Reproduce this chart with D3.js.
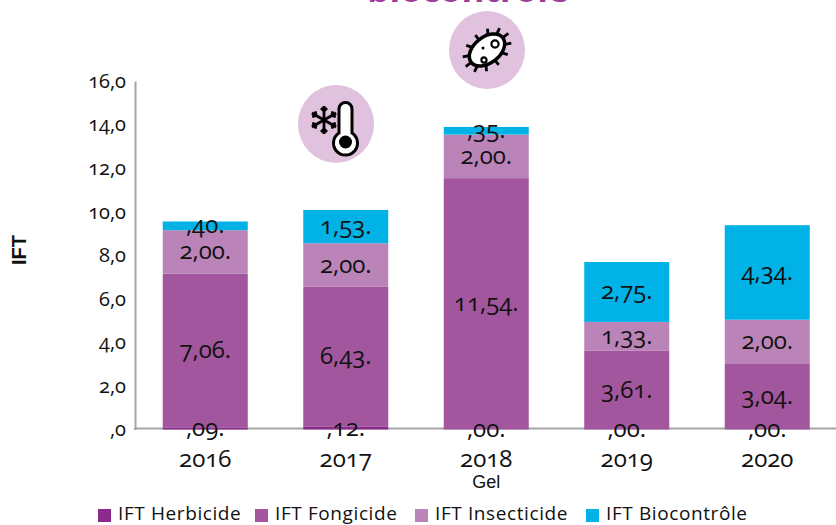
<!DOCTYPE html>
<html lang="fr">
  <head>
    <meta charset="UTF-8" />
    <title>IFT</title>
    <script src="https://d3js.org/d3.v7.min.js"></script>
    <style>
      body { margin: 0; background: #fff; }
      svg { display: block; }
      text { font-family: "Open Sans", Lato, sans-serif; fill: #111; font-feature-settings: "onum" 1; font-variant-numeric: oldstyle-nums; }
      .arial { font-family: "Liberation Sans", Arial, sans-serif; }
    </style>
  </head>
  <body>
    <svg width="836" height="525"></svg>
    <script>
      var years = ["2016", "2017", "2018", "2019", "2020"];
      var seriesNames = ["IFT Herbicide", "IFT Fongicide", "IFT Insecticide", "IFT Biocontrôle"];
      var seriesColors = ["#8b2a8b", "#a2569d", "#bb84b8", "#00b2e6"];
      var herbicide = [0.09, 0.12, 0, 0, 0];
      var fongicide = [7.06, 6.43, 11.54, 3.61, 3.04];
      var insecticide = [2, 2, 2, 1.33, 2];
      var biocontrole = [0.4, 1.53, 0.35, 2.75, 4.34];
      var yTicks = [0, 2, 4, 6, 8, 10, 12, 14, 16];

      var svg = d3.select("svg");
      var x = d3.scaleBand().domain(years).range([135, 837.5]).paddingInner(0.395).paddingOuter(0.1975);
      var y = d3.scaleLinear().domain([0, 16]).range([429.5, 81]);

      var rows = years.map(function (yr, i) {
        return { year: yr, h: herbicide[i], f: fongicide[i], n: insecticide[i], b: biocontrole[i] };
      });
      var keys = ["h", "f", "n", "b"];
      var stacked = d3.stack().keys(keys)(rows);

      function numLabel(v) {
        return d3.format(".2f")(v).replace(".", ",").replace(/^0,/, ",") + ".";
      }

      // titre coupe en haut de l'image
      svg.append("text")
        .attr("x", 468).attr("y", 2)
        .attr("text-anchor", "middle")
        .style("font-size", "35px").style("font-weight", 700)
        .style("fill", "#9c3d9c")
        .text("biocontrôle");

      // axes
      var axisColor = "#a6a6a6";
      var yAxis = svg.append("g").attr("transform", "translate(135,0)")
        .call(d3.axisLeft(y).tickValues(yTicks).tickSize(0).tickPadding(9)
          .tickFormat(function (d) { return d === 0 ? ",0" : d + ",0"; }));
      yAxis.select(".domain").attr("stroke", axisColor).attr("stroke-width", 2);
      yAxis.selectAll("text").style("font-size", "20px").attr("fill", "#111");

      svg.append("line")
        .attr("x1", 134).attr("x2", 836)
        .attr("y1", 428.5).attr("y2", 428.5)
        .attr("stroke", axisColor).attr("stroke-width", 2);

      var xAxis = svg.append("g").attr("transform", "translate(0,429)")
        .call(d3.axisBottom(x).tickSize(0).tickPadding(21));
      xAxis.select(".domain").remove();
      xAxis.selectAll("text").style("font-size", "24px").attr("fill", "#111");

      // bars
      var layers = svg.selectAll("g.layer").data(stacked).enter().append("g")
        .attr("class", "layer")
        .attr("fill", function (d, i) { return seriesColors[i]; });
      layers.selectAll("rect").data(function (d) { return d; }).enter().append("rect")
        .attr("x", function (d) { return x(d.data.year); })
        .attr("width", x.bandwidth())
        .attr("y", function (d) { return y(d[1]); })
        .attr("height", function (d) { return y(d[0]) - y(d[1]); });

      // valeurs, au dessus de toutes les barres
      var valueLayers = svg.selectAll("g.values").data(stacked).enter().append("g")
        .attr("class", "values");
      valueLayers.selectAll("text").data(function (d) { return d; }).enter().append("text")
        .attr("x", function (d) { return x(d.data.year) + x.bandwidth() / 2; })
        .attr("y", function (d) { return (y(d[0]) + y(d[1])) / 2 - 2; })
        .attr("text-anchor", "middle")
        .attr("dominant-baseline", "central")
        .style("font-size", "24px")
        .text(function (d) { return numLabel(d[1] - d[0]); });

      svg.append("text").attr("class", "arial")
        .attr("x", x("2018") + x.bandwidth() / 2).attr("y", 488)
        .attr("text-anchor", "middle").style("font-size", "18px").text("Gel");

      svg.append("text").attr("class", "arial")
        .attr("transform", "translate(26,250) rotate(-90)")
        .attr("text-anchor", "middle").style("font-size", "20px").style("font-weight", 700)
        .text("IFT");

      // legende
      var legendX = [98, 255, 415, 586];
      var legend = svg.selectAll("g.leg").data(seriesNames).enter().append("g")
        .attr("class", "leg")
        .attr("transform", function (d, i) { return "translate(" + legendX[i] + ",508)"; });
      legend.append("rect").attr("y", 1).attr("width", 13).attr("height", 13)
        .attr("fill", function (d, i) { return seriesColors[i]; });
      legend.append("text").attr("x", 20).attr("y", 12)
        .style("font-size", "19px").style("letter-spacing", "0.6px")
        .text(function (d) { return d; });

      // icone gel
      var gel = svg.append("g").attr("transform", "translate(336,124)");
      gel.append("ellipse").attr("rx", 38).attr("ry", 39).attr("fill", "#e0c2de");
      gel.append("path")
        .attr("d", "M3,-15 a6.5,6.5 0 0 1 13,0 V9 a12,12 0 1 1 -13,0 Z")
        .attr("fill", "#fff").attr("stroke", "#000").attr("stroke-width", 3);
      gel.append("circle").attr("cx", 9.5).attr("cy", 18).attr("r", 6.5).attr("fill", "#000");
      var flake = gel.append("g").attr("transform", "translate(-12,-4)");
      [0, 60, 120].forEach(function (a) {
        flake.append("path")
          .attr("transform", "rotate(" + a + ")")
          .attr("d", "M0,-14 V14 M-3,-12 L0,-9 L3,-12 M-3,12 L0,9 L3,12")
          .attr("fill", "none").attr("stroke", "#000").attr("stroke-width", 2.8);
      });

      // icone bacterie
      var bact = svg.append("g").attr("transform", "translate(487,50)");
      bact.append("ellipse").attr("rx", 38).attr("ry", 39).attr("fill", "#e0c2de");
      var cell = bact.append("g").attr("transform", "rotate(-38)");
      d3.range(0, 360, 30).forEach(function (a) {
        var r = a * Math.PI / 180;
        cell.append("line")
          .attr("x1", 14 * Math.cos(r)).attr("y1", 8 * Math.sin(r))
          .attr("x2", 27 * Math.cos(r)).attr("y2", 19 * Math.sin(r))
          .attr("stroke", "#000").attr("stroke-width", 2.8);
      });
      cell.append("ellipse").attr("rx", 20).attr("ry", 13).attr("fill", "#fff").attr("stroke", "#000").attr("stroke-width", 3.5);
      bact.append("circle").attr("cx", 8).attr("cy", -6).attr("r", 3.6).attr("fill", "none").attr("stroke", "#000").attr("stroke-width", 2.2);
      bact.append("circle").attr("cx", -3).attr("cy", 10).attr("r", 2.6).attr("fill", "none").attr("stroke", "#000").attr("stroke-width", 2.2);
      bact.append("circle").attr("cx", -4).attr("cy", -2).attr("r", 1.5).attr("fill", "#000");
    </script>
  </body>
</html>
